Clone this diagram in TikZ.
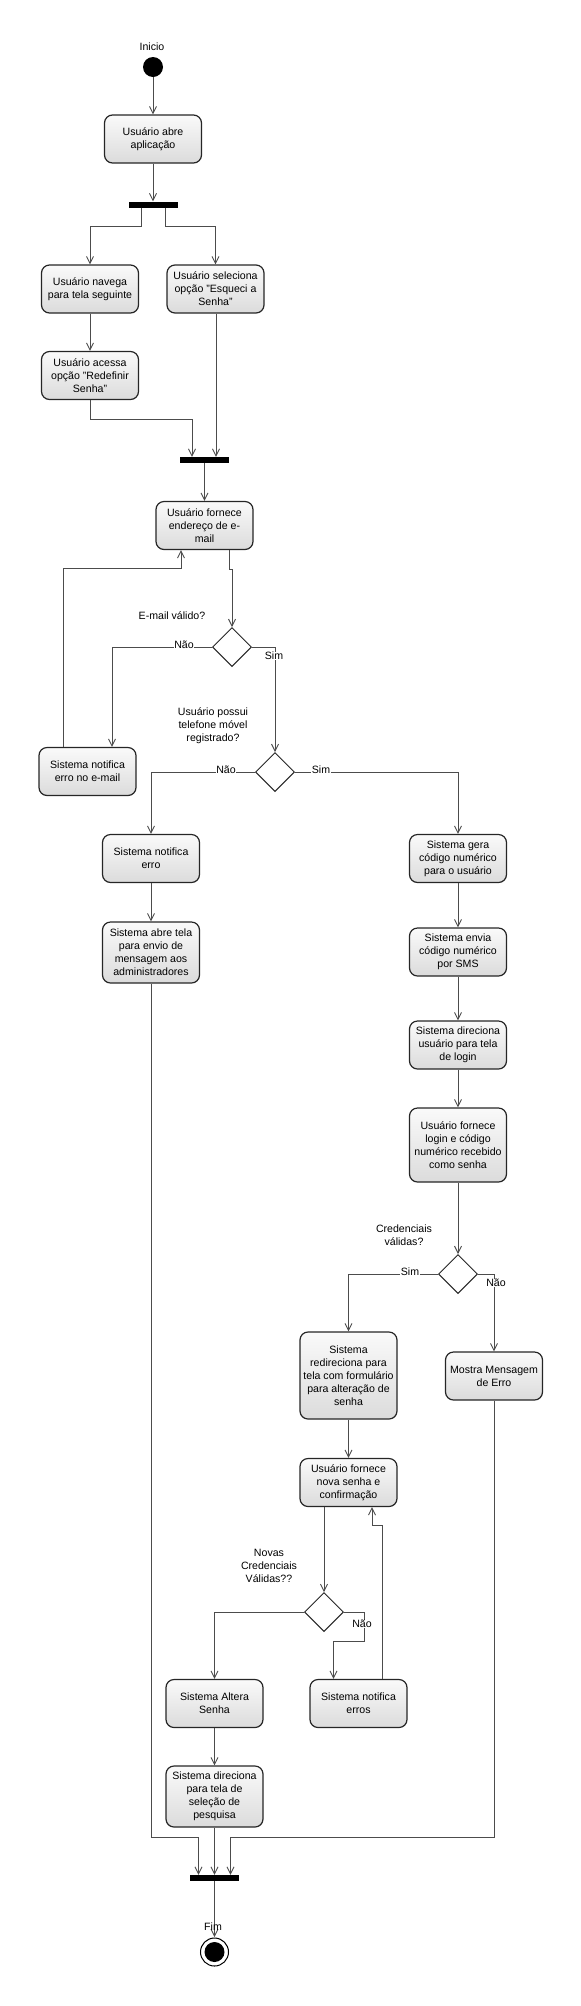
\documentclass[tikz,border=0pt]{standalone}
\usepackage{fontspec}
\setmainfont{Liberation Sans}
\usetikzlibrary{shapes.geometric,arrows.meta}

\begin{document}
\begin{tikzpicture}[x=1pt,y=-1pt,>={Straight Barb[length=7pt,width=7pt]},
    font=\fontsize{10.6}{13}\selectfont]
\useasboundingbox (0,0) rectangle (581,2006);

% start / end
\node (inicio) at (152,47) {Inicio};
\node (ini) [circle,fill=black,minimum size=20pt,inner sep=0pt] at (153,67) {};

% activities
\begin{scope}[every node/.style={rectangle,rounded corners=8pt,draw=black!85,line width=1.2pt,
    top color=black!2,bottom color=black!14,minimum width=97pt,minimum height=48pt,
    inner sep=2pt,align=center}]
  \node (abre) at (153,139) {Usuário abre\\aplicação};
  \node (navega) at (90,289) {Usuário navega\\para tela seguinte};
  \node (seleciona) at (215.5,289) {Usuário seleciona\\opção "Esqueci a\\Senha"};
  \node (acessa) at (90,375.5) {Usuário acessa\\opção "Redefinir\\Senha"};
  \node (email) at (204.5,525.5) {Usuário fornece\\endereço de e-\\mail};
  \node (errmail) at (87.5,771.5) {Sistema notifica\\erro no e-mail};
  \node (notif) at (151,858.5) {Sistema notifica\\erro};
  \node (abretela) [minimum height=61pt] at (151,952.5) {Sistema abre tela\\para envio de\\mensagem aos\\administradores};
  \node (gera) at (458,858.5) {Sistema gera\\código numérico\\para o usuário};
  \node (envia) at (458,952) {Sistema envia\\código numérico\\por SMS};
  \node (dirlogin) at (458,1045) {Sistema direciona\\usuário para tela\\de login};
  \node (logincod) [minimum height=74pt] at (458,1145) {Usuário fornece\\login e código\\numérico recebido\\como senha};
  \node (redir) [minimum height=87pt] at (348.5,1375.5) {Sistema\\redireciona para\\tela com formulário\\para alteração de\\senha};
  \node (mostra) at (494,1376) {Mostra Mensagem\\de Erro};
  \node (novasenha) at (348.5,1482.5) {Usuário fornece\\nova senha e\\confirmação};
  \node (altera) at (214.5,1703.5) {Sistema Altera\\Senha};
  \node (notiferros) at (358.5,1703.5) {Sistema notifica\\erros};
  \node (dirpesq) [minimum height=61pt] at (214.5,1796.5) {Sistema direciona\\para tela de\\seleção de\\pesquisa};
\end{scope}

% forks and decisions
\begin{scope}[every node/.style={rectangle,fill=black,minimum width=49pt,minimum height=6pt,inner sep=0pt}]
  \node (fork1) at (153,204.5) {};
  \node (fork2) at (204.5,460) {};
  \node (fork3) at (214.5,1878) {};
\end{scope}
\begin{scope}[every node/.style={diamond,draw=black!85,line width=1pt,fill=white,
    minimum width=39pt,minimum height=39pt,inner sep=0pt}]
  \node (dec1) at (232,647) {};
  \node (dec2) at (275,772) {};
  \node (dec3) at (458,1274) {};
  \node (dec4) at (324,1612) {};
\end{scope}

% questions
\begin{scope}[every node/.style={align=center,inner sep=0pt}]
  \node (q1) at (172,616) {E-mail válido?};
  \node (q2) at (213,726) {Usuário possui\\telefone móvel\\registrado?};
  \node (q3) at (404,1235) {Credenciais\\válidas?};
  \node (q4) at (269,1566) {Novas\\Credenciais\\Válidas??};
\end{scope}

% flows
\begin{scope}[draw=black!70,line width=0.9pt]
  \path [->] (ini) edge (abre);
  \path [->] (abre) edge (fork1);
  \draw [->] ([xshift=-12pt]fork1.south) -- ++(0,19) -| (navega);
  \draw [->] ([xshift=12pt]fork1.south) -- ++(0,19) -| (seleciona);
  \path [->] (navega) edge (acessa);
  \draw [->] (acessa.south) -- ++(0,19) -| ([xshift=-12.5pt]fork2.north);
  \draw [->] ([xshift=0.5pt]seleciona.south) -- ([xshift=11.5pt]fork2.north);
  \path [->] (fork2) edge (email);
  \draw [->] ([xshift=24.5pt]email.south) -- ++(0,19) -| (dec1.north);
  \draw [->] (dec1.west) -| ([xshift=24.5pt]errmail.north);
  \draw [->] ([xshift=-24.5pt]errmail.north) -- ++(0,-178) -| ([xshift=-23.5pt]email.south);
  \draw [->] (dec1.east) -| (dec2.north);
  \draw [->] (dec2.west) -| (notif.north);
  \draw [->] (dec2.east) -| (gera.north);
  \path [->] (notif) edge (abretela);
  \path [->] (gera) edge (envia);
  \path [->] (envia) edge (dirlogin);
  \path [->] (dirlogin) edge (logincod);
  \path [->] (logincod) edge (dec3);
  \draw [->] (dec3.west) -| (redir.north);
  \draw [->] (dec3.east) -| (mostra.north);
  \path [->] (redir) edge (novasenha);
  \draw [->] ([xshift=-24.5pt]novasenha.south) -- (dec4.north);
  \draw [->] (dec4.west) -| (altera.north);
  \draw [->] (dec4.east) -- ++(20,0) -- ++(0,29) -| ([xshift=-25pt]notiferros.north);
  \draw [->] ([xshift=23.5pt]notiferros.north) -- ++(0,-153) -| ([xshift=23.5pt]novasenha.south);
  \path [->] (altera) edge (dirpesq);
  \path [->] (dirpesq) edge (fork3);
  \draw [->] (abretela.south) -- ++(0,853.5) -| ([xshift=-16pt]fork3.north);
  \draw [->] (mostra.south) -- ++(0,437) -| ([xshift=16pt]fork3.north);
  \draw [->] (fork3) -- (214.5,1937) coordinate (fimtop);
\end{scope}

% guards
\begin{scope}[every node/.style={fill=white,inner sep=0.5pt}]
  \node (nao1) at (184,645) {Não};
  \node (sim1) at (274,656) {Sim};
  \node (nao2) at (226,770) {Não};
  \node (sim2) at (321,770) {Sim};
  \node (sim3) at (410,1272) {Sim};
  \node (nao3) at (496,1283) {Não};
  \node (nao4) at (362,1624) {Não};
\end{scope}

\node (fimlabel) at (213,1927) {Fim};
\node (fim) [circle,draw=black,line width=1pt,fill=white,minimum size=28pt,inner sep=0pt] at (214.5,1952) {};
\node (fimdot) [circle,fill=black,minimum size=20pt,inner sep=0pt] at (fim) {};
\end{tikzpicture}
\end{document}
